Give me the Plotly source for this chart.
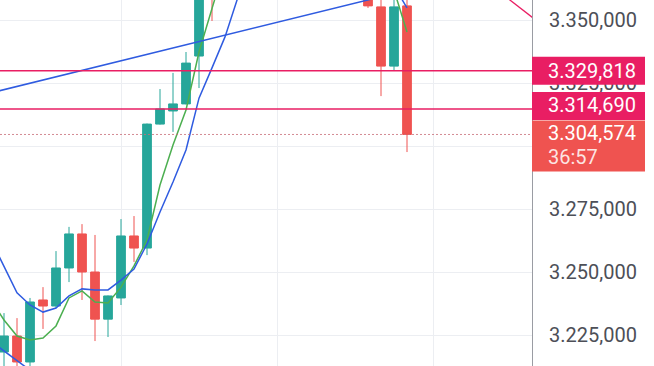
import plotly.graph_objects as go

# ---------------- data ----------------
idx = list(range(-1, 32))
opens = [3232000, 3218250, 3224600, 3214300, 3238900, 3236500, 3251600, 3265100, 3250000, 3231300,
         3239700, 3264300, 3259500, 3308700, 3313900, 3316700, 3335700, 3390000, 3370000, 3392000,
         3410000, 3398000, 3420000, 3405000, 3392000, 3402000, 3388000, 3378000, 3386000, 3365000,
         3355200, 3331700, 3355600]
highs = [3240000, 3233700, 3231700, 3239700, 3244000, 3258300, 3267900, 3269000, 3264700, 3240700,
         3271000, 3272200, 3308900, 3322600, 3329000, 3337300, 3380000, 3395000, 3398000, 3415000,
         3418000, 3426000, 3428000, 3412000, 3408000, 3406000, 3394000, 3390000, 3390000, 3370000,
         3362000, 3364000, 3362000]
lows = [3228000, 3211000, 3210000, 3210500, 3227400, 3235700, 3246000, 3238900, 3222600, 3224200,
        3236900, 3254000, 3256700, 3308500, 3305600, 3316500, 3323000, 3349600, 3365000, 3386000,
        3392000, 3394000, 3400000, 3386000, 3385000, 3380000, 3372000, 3371000, 3366000, 3354800,
        3319800, 3329800, 3297600]
closes = [3236000, 3224600, 3214300, 3238100, 3236500, 3251600, 3265100, 3250000, 3231300, 3240500,
          3264300, 3259500, 3308700, 3314700, 3316700, 3332900, 3375000, 3360000, 3392000, 3410000,
          3398000, 3420000, 3405000, 3392000, 3402000, 3388000, 3378000, 3386000, 3372000, 3355600,
          3331700, 3355200, 3304574]
ma_fast = [3238900, 3230950, 3224600, 3223000, 3223800, 3228600, 3239700, 3242500, 3238100, 3237700,
           3244000, 3252400, 3262700, 3284500, 3300400, 3314300, 3337300, 3354800, 3371800, 3386000,
           3396000, 3403000, 3407000, 3409000, 3407000, 3403000, 3397000, 3389000, 3381000, 3373000,
           3366000, 3361900, 3345200]
ma_slow = [3262700, 3252400, 3241700, 3236900, 3234100, 3235700, 3240500, 3243300, 3242900, 3242900,
           3246800, 3251200, 3261100, 3273800, 3285700, 3298400, 3319000, 3331000, 3343300, 3359100,
           3373800, 3386000, 3395000, 3401000, 3404000, 3405000, 3403000, 3399000, 3393000, 3385000,
           3375000, 3363500, 3354800]

trend_blue_x = [-1, 30]
trend_blue_y = [3321100, 3360500]
trend_blue2_x = [-1, 3]
trend_blue2_y = [3222500, 3207200]
trend_pink_x = [38.5, 41.0]
trend_pink_y = [3359600, 3349600]

level_prices = [3329818, 3314690]
level_labels = ["3.329,818", "3.314,690"]
last_price = 3304574
last_label = "3.304,574"
countdown = "36:57"

tick_vals = [3225000, 3250000, 3275000, 3300000, 3325000, 3350000]
tick_text = ["3.225,000", "3.250,000", "3.275,000", "", "3.325,000", "3.350,000"]
grid_x = [9, 21, 33]

x_range = [-0.3077, 40.615]
y_range = [3212699, 3357936]

# ---------------- styles ----------------
UP = "#26a69a"
DOWN = "#ef5350"
PINK = "#e91e63"
BLUE = "#2f5be0"
GREEN = "#4caf50"
GRID = "#eceef2"
FONT = "Roboto"

fig = go.Figure()

fig.add_trace(go.Scatter(x=idx, y=ma_fast, mode="lines",
                         line=dict(color=GREEN, width=1.5), hoverinfo="skip"))
fig.add_trace(go.Scatter(x=idx, y=ma_slow, mode="lines",
                         line=dict(color=BLUE, width=1.5), hoverinfo="skip"))

fig.add_trace(go.Candlestick(
    x=idx, open=opens, high=highs, low=lows, close=closes,
    increasing=dict(line=dict(color=UP, width=1), fillcolor=UP),
    decreasing=dict(line=dict(color=DOWN, width=1), fillcolor=DOWN),
    whiskerwidth=0,
))

fig.add_trace(go.Scatter(x=trend_blue_x, y=trend_blue_y, mode="lines",
                         line=dict(color=BLUE, width=1.5), hoverinfo="skip"))
fig.add_trace(go.Scatter(x=trend_blue2_x, y=trend_blue2_y, mode="lines",
                         line=dict(color=BLUE, width=1.5), hoverinfo="skip"))
fig.add_trace(go.Scatter(x=trend_pink_x, y=trend_pink_y, mode="lines",
                         line=dict(color=PINK, width=1.3), hoverinfo="skip"))

shapes = []
for p in level_prices:
    shapes.append(dict(type="line", xref="paper", x0=0, x1=1, yref="y", y0=p, y1=p,
                       line=dict(color=PINK, width=1.5), layer="above"))
shapes.append(dict(type="line", xref="paper", x0=0, x1=1, yref="y", y0=last_price, y1=last_price,
                   line=dict(color="rgba(200,110,120,0.8)", width=1, dash="2px,2px"), layer="above"))

# price label boxes on the right scale
box_specs = [(level_prices[0], -14, 14, PINK),
             (level_prices[1], -11, 17, PINK),
             (last_price, -37, 14, DOWN)]
for p, b0, b1, col in box_specs:
    shapes.append(dict(type="rect", xref="paper", xsizemode="pixel", xanchor=1, x0=0, x1=113,
                       yref="y", ysizemode="pixel", yanchor=p, y0=b0, y1=b1,
                       fillcolor=col, line=dict(width=0), layer="above"))

annotations = []
for p, txt, ys in [(level_prices[0], level_labels[0], 0), (level_prices[1], level_labels[1], 4),
                   (last_price, last_label, 1)]:
    annotations.append(dict(xref="paper", x=1, xanchor="left", xshift=14, yref="y", y=p,
                            yanchor="middle", yshift=ys, text=txt, showarrow=False,
                            font=dict(family=FONT, size=20, color="white")))
annotations.append(dict(xref="paper", x=1, xanchor="left", xshift=14, yref="y", y=last_price,
                        yanchor="middle", yshift=-23, text=countdown, showarrow=False,
                        font=dict(family=FONT, size=20, color="rgba(255,255,255,0.85)")))

fig.update_layout(
    width=654, height=366,
    margin=dict(l=0, r=122, t=0, b=0),
    paper_bgcolor="white", plot_bgcolor="white",
    showlegend=False,
    boxgap=0.33, boxgroupgap=0,
    shapes=shapes, annotations=annotations,
    font=dict(family=FONT),
    xaxis=dict(range=x_range, showticklabels=False, tickvals=grid_x, showgrid=True,
               gridcolor=GRID, gridwidth=1, zeroline=False, showline=False,
               rangeslider=dict(visible=False), fixedrange=True),
    yaxis=dict(range=y_range, side="right", tickvals=tick_vals, ticktext=tick_text,
               showgrid=True, gridcolor=GRID, gridwidth=1, zeroline=False,
               showline=True, linecolor="#9a9ca3", linewidth=1, ticks="",
               ticklabelstandoff=12,
               tickfont=dict(family=FONT, size=20, color="#4d4f57"), fixedrange=True),
)

fig.write_html("out.html", config={"displayModeBar": False},
               post_script="document.body.style.margin='0';document.body.style.overflow='hidden';")
